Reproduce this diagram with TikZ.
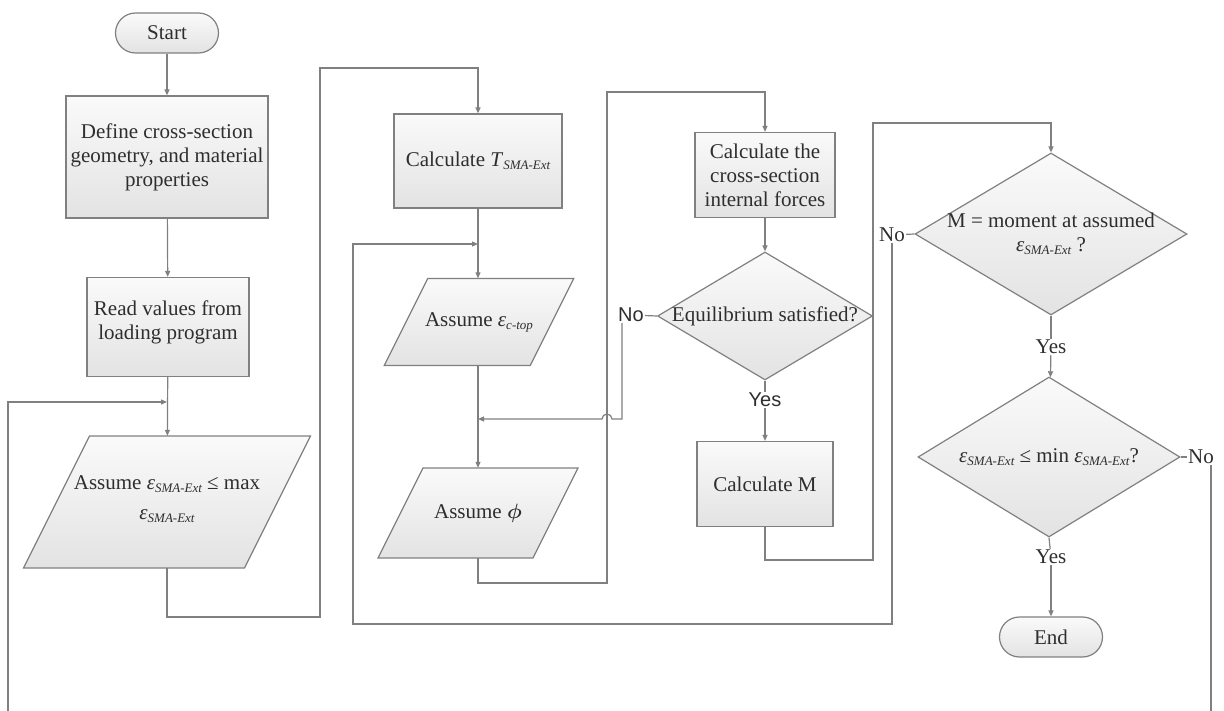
\documentclass[tikz,border=0pt]{standalone}
\usepackage{fontspec}
\usepackage{bm}
\setmainfont{Liberation Serif}
\newfontfamily\arialfont{Liberation Sans}
\usetikzlibrary{shapes.geometric,arrows.meta}
\definecolor{linegray}{HTML}{808080}
\definecolor{textgray}{HTML}{2E2E2E}
\newcommand{\lowsub}[1]{\raisebox{-3pt}{\fontsize{13}{13}\selectfont\itshape #1}}
\newcommand{\esma}{\textit{ε}\lowsub{SMA-Ext}}
% parallelogram: centre x, centre y, half edge length, half height
\newcommand{\iobox}[4]{\path[box] (#1-#3+0.5*#4,#2-#4) -- (#1+#3+0.5*#4,#2-#4) -- (#1+#3-0.5*#4,#2+#4) -- (#1-#3-0.5*#4,#2+#4) -- cycle;}
\begin{document}
\begin{tikzpicture}[x=1pt,y=-1pt,font=\fontsize{21}{24}\selectfont,text=textgray]
        \tikzstyle{box}=[draw=linegray, line width=1.2pt, top color=white!98!black, bottom color=white!89!black, align=center, inner sep=0pt];
        \tikzstyle{terminal}=[box, rectangle, rounded corners=20pt, minimum width=103pt, minimum height=40pt];
        \tikzstyle{process}=[box, rectangle];
        \tikzstyle{data}=[rectangle, align=center, inner sep=0pt];
        \tikzstyle{decision}=[box, diamond];
        \tikzstyle{answer}=[inner sep=1pt];
        \tikzstyle{link}=[draw=linegray, line width=1.2pt];
        \tikzstyle{flow}=[link, -{Triangle[length=6pt,width=5pt]}];
        \useasboundingbox (0,0) rectangle (1224,711);
        %\node[style] (name) at (x,y) {text};
        %\draw [flow] (a) -- ... -- (b);
        \node[terminal] (start) at (167,33) {Start};
        \node[process, minimum width=202pt, minimum height=122pt] (define) at (167,157) {Define cross-section\\geometry, and material\\properties};
        \node[process, minimum width=162pt, minimum height=99pt] (read) at (168,327) {Read values from\\loading program\\[-10pt]};
        \iobox{167}{502}{110.5}{66}
        \node[data, minimum width=221pt, minimum height=132pt] (assmax) at (167,502) {Assume \esma{} ≤ max\\[6pt]\esma\\[-16pt]};
        \node[process, minimum width=168pt, minimum height=94pt] (calct) at (478,161) {Calculate \textit{T}\lowsub{SMA-Ext}};
        \iobox{479}{322}{73}{43.5}
        \node[data, minimum width=146pt, minimum height=87pt] (ctop) at (479,322) {Assume \textit{ε}\lowsub{c-top}};
        \iobox{478}{513}{77.5}{45}
        \node[data, minimum width=155pt, minimum height=90pt] (phi) at (478,513) {Assume $\bm{\phi}$};
        \node[process, minimum width=140pt, minimum height=85pt] (forces) at (765,175) {Calculate the\\cross-section\\internal forces};
        \node[decision, minimum width=215pt, minimum height=128pt, label={center:Equilibrium satisfied?}] (equil) at (765,316) {};
        \node[process, minimum width=136pt, minimum height=85pt] (calcm) at (765,484) {Calculate M};
        \node[decision, minimum width=272pt, minimum height=162pt, label={[align=center]center:M = moment at assumed\\\esma{} ?}] (mcheck) at (1051,234) {};
        \node[decision, minimum width=262pt, minimum height=160pt, label={center:\esma{} ≤ min \esma?}] (mincheck) at (1049,457) {};
        \node[terminal] (end) at (1051,637) {End};
        \node[answer, font=\arialfont\fontsize{20}{24}\selectfont] (noequil) at (631,315) {No};
        \node[answer, font=\arialfont\fontsize{20}{24}\selectfont] (yesequil) at (765,400) {Yes};
        \node[answer] (nomoment) at (892,235) {No};
        \node[answer] (yesmoment) at (1051,347) {Yes};
        \node[answer] (nomin) at (1201,457) {No};
        \node[answer] (yesmin) at (1051,557) {Yes};
        \coordinate (joinmax) at (167,402);
        \coordinate (jointop) at (478,244);
        \coordinate (joinphi) at (478,419);
        \draw[flow] (start) -- (define);
        \draw[flow] (define) -- (read);
        \draw[flow] (read) -- (assmax);
        \draw[flow] (assmax.south) -- (167,617) -- (320,617) -- (320,68) -- (478,68) -- (calct.north);
        \draw[flow] (calct) -- (calct |- ctop.north);
        \draw[flow] (ctop.south -| phi) -- (phi);
        \draw[flow] (phi.south) -- (478,583) -- (607,583) -- (607,92) -- (765,92) -- (forces.north);
        \draw[flow] (forces) -- (equil);
        \draw[link] (equil.west) -- (noequil);
        \draw[flow] (noequil.south -| 622,0) -- (622,419) -- (612,419) arc (0:-180:5) -- (joinphi);
        \draw[link] (equil.south) -- (yesequil);
        \draw[flow] (yesequil) -- (calcm);
        \draw[flow] (calcm.south) -- (765,560) -- (873,560) -- (873,123) -- (1051,123) -- (mcheck.north);
        \draw[link] (mcheck.west) -- (nomoment);
        \draw[flow] (nomoment.south) -- (892,624) -- (353,624) -- (353,244) -- (jointop);
        \draw[link] (mcheck.south) -- (yesmoment);
        \draw[flow] (yesmoment) -- (mincheck);
        \draw[link] (mincheck.east) -- (nomin);
        \draw[flow] (nomin.south -| 1211,0) -- (1211,740) -- (8,740) -- (8,402) -- (joinmax);
        \draw[link] (mincheck.south) -- (yesmin);
        \draw[flow] (yesmin) -- (end);
    \end{tikzpicture}
\end{document}
